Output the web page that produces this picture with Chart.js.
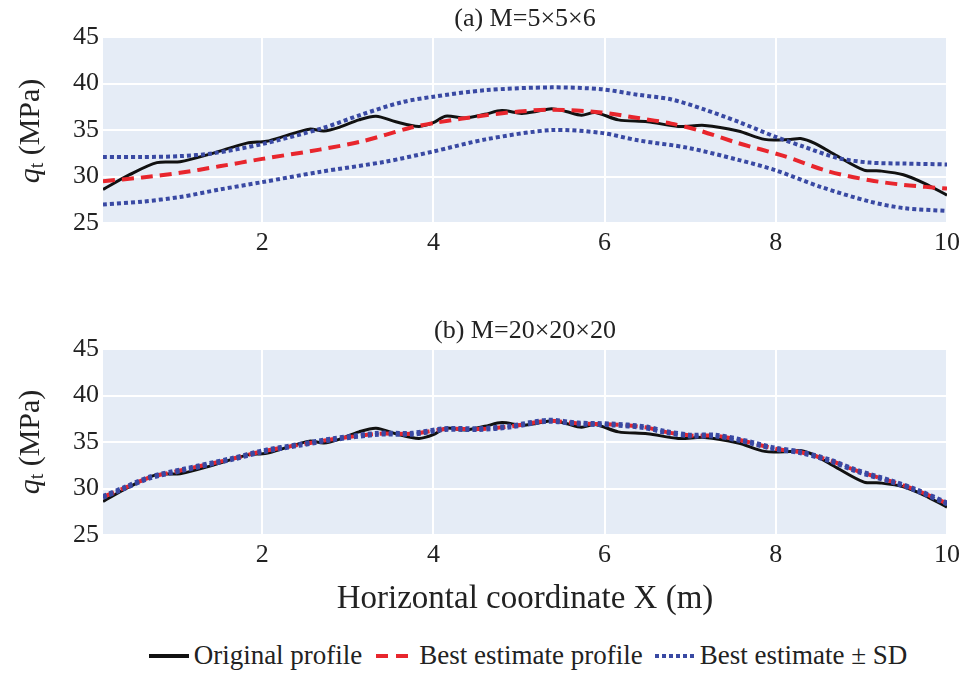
<!DOCTYPE html>
<html lang="en">
<head>
    <meta charset="UTF-8">
    <title>qt profiles</title>
    <script src="https://cdn.jsdelivr.net/npm/chart.js"></script>
    <style>
        body { margin: 0; background: #fff; font-family: "Liberation Serif", serif; }
        .page { position: relative; width: 965px; height: 675px; overflow: hidden; }
        canvas { position: absolute; left: 0; }
        .ytitle {
            position: absolute; left: 30px; font-size: 30px; color: #222; white-space: nowrap;
            transform: translate(-50%, -50%) rotate(-90deg);
        }
        .ytitle sub { font-size: 20px; vertical-align: -4px; }
        .legend {
            position: absolute; top: 640px; left: 0; width: 965px; padding-left: 91px; box-sizing: border-box;
            display: flex; justify-content: center; align-items: center; font-size: 27px; color: #222;
        }
        .legend span.item { display: flex; align-items: center; margin: 0 6px; }
        .legend svg { margin-right: 5px; }
    </style>
</head>
<body>
<div class="page">
    <canvas id="chartA" width="965" height="262" style="top:0"></canvas>
    <canvas id="chartB" width="965" height="330" style="top:300px"></canvas>
    <div class="ytitle" style="top:131px"><i>q</i><sub>t</sub> (MPa)</div>
    <div class="ytitle" style="top:442px"><i>q</i><sub>t</sub> (MPa)</div>
    <div class="legend">
        <span class="item"><svg width="40" height="10"><line x1="0" y1="5" x2="40" y2="5" stroke="#111" stroke-width="4"/></svg>Original profile</span>
        <span class="item"><svg width="40" height="10"><line x1="2" y1="5" x2="40" y2="5" stroke="#E8262D" stroke-width="4" stroke-dasharray="12 8"/></svg>Best estimate profile</span>
        <span class="item"><svg width="40" height="10"><line x1="0" y1="5" x2="40" y2="5" stroke="#3949A3" stroke-width="4" stroke-dasharray="4 3"/></svg>Best estimate &plusmn; SD</span>
    </div>
</div>

<script>
    // Original profile (same in both panels)
    const origX = [0.14, 0.45, 0.77, 1.04, 1.42, 1.82, 2.05, 2.28, 2.55, 2.72, 2.9, 3.13, 3.33, 3.56, 3.83, 4.0, 4.14, 4.37, 4.6, 4.8, 5.03, 5.2, 5.38, 5.55, 5.73, 5.89, 6.16, 6.5, 6.86, 7.17, 7.56, 7.87, 8.17, 8.29, 8.45, 8.72, 9.03, 9.22, 9.49, 9.73, 10.0];
    const origQ = [28.6, 30.2, 31.5, 31.6, 32.5, 33.6, 33.8, 34.4, 35.1, 34.9, 35.3, 36.1, 36.5, 35.9, 35.4, 35.8, 36.5, 36.3, 36.7, 37.1, 36.8, 37.0, 37.3, 37.0, 36.6, 36.9, 36.1, 35.9, 35.4, 35.5, 34.9, 34.0, 34.0, 34.1, 33.6, 32.2, 30.7, 30.6, 30.2, 29.3, 28.0];

    // (a) M=5x5x6
    const estAX = [0.14, 0.6, 1.04, 1.5, 2.0, 2.67, 3.17, 3.71, 4.03, 4.61, 5.0, 5.38, 5.96, 6.39, 6.78, 7.09, 7.56, 8.1, 8.6, 9.1, 9.5, 10.0];
    const estAQ = [29.5, 29.9, 30.4, 31.1, 31.9, 32.9, 33.8, 35.2, 35.8, 36.6, 37.0, 37.2, 36.9, 36.3, 35.7, 35.0, 33.6, 32.2, 30.6, 29.6, 29.1, 28.7];
    const upAX = [0.14, 0.6, 1.04, 1.42, 2.0, 2.7, 3.17, 3.63, 4.0, 4.61, 5.38, 5.96, 6.39, 6.78, 7.17, 7.56, 7.99, 8.33, 8.72, 9.1, 9.5, 10.0];
    const upAQ = [32.1, 32.1, 32.2, 32.5, 33.5, 35.2, 36.7, 38.0, 38.6, 39.3, 39.6, 39.4, 38.8, 38.3, 37.2, 35.9, 34.3, 33.2, 32.0, 31.5, 31.4, 31.3];
    const loAX = [0.14, 0.6, 1.04, 1.5, 2.0, 2.67, 3.44, 4.0, 4.61, 5.38, 5.96, 6.39, 6.97, 7.56, 7.99, 8.52, 9.1, 9.5, 10.0];
    const loAQ = [27.0, 27.3, 27.8, 28.6, 29.4, 30.5, 31.6, 32.7, 34.0, 35.0, 34.7, 33.9, 33.1, 31.8, 30.7, 28.9, 27.3, 26.6, 26.3];

    // (b) M=20x20x20
    const estBX = [0.14, 0.4, 0.69, 1.07, 1.65, 2.0, 2.43, 2.82, 3.36, 3.75, 4.14, 4.53, 4.91, 5.34, 5.69, 6.08, 6.47, 6.71, 7.01, 7.29, 7.59, 7.99, 8.29, 8.64, 8.95, 9.34, 9.65, 10.0];
    const estBQ = [29.1, 30.1, 31.2, 32.0, 33.2, 34.0, 34.7, 35.3, 35.9, 35.9, 36.4, 36.4, 36.7, 37.3, 37.0, 36.9, 36.6, 36.1, 35.7, 35.7, 35.2, 34.3, 33.9, 33.0, 31.9, 30.8, 29.8, 28.4];
    const upBQ = [29.2, 30.2, 31.3, 32.1, 33.3, 34.1, 34.8, 35.4, 36.0, 36.0, 36.5, 36.5, 36.8, 37.4, 37.1, 37.0, 36.7, 36.2, 35.8, 35.8, 35.3, 34.4, 34.0, 33.1, 32.0, 30.9, 29.9, 28.5];
    const loBQ = [29.0, 30.0, 31.1, 31.9, 33.1, 33.9, 34.6, 35.2, 35.8, 35.8, 36.3, 36.3, 36.6, 37.2, 36.9, 36.8, 36.5, 36.0, 35.6, 35.6, 35.1, 34.2, 33.8, 32.9, 31.8, 30.7, 29.7, 28.3];

    const xTicks = [2, 4, 6, 8, 10];
    const yTicks = [25, 30, 35, 40, 45];

    Chart.defaults.font.family = "'Liberation Serif', 'Times New Roman', serif";
    Chart.defaults.color = '#222';

    const pts = (xs, ys) => xs.map((x, i) => ({ x: x, y: ys[i] }));

    // light blue plot background
    const plotBg = {
        id: 'plotBg',
        beforeDraw(chart) {
            const { ctx, chartArea: a } = chart;
            ctx.save();
            ctx.fillStyle = '#E5ECF6';
            ctx.fillRect(a.left, a.top, a.right - a.left, a.bottom - a.top);
            ctx.restore();
        }
    };

    function lineSet(data, color, width, dash, order) {
        return {
            data: data, borderColor: color, borderWidth: width, borderDash: dash,
            pointRadius: 0, tension: 0.3, fill: false, order: order
        };
    }

    function makeChart(id, title, sets, titleTop, xHeight, withXTitle) {
        const ctx = document.getElementById(id).getContext('2d');
        return new Chart(ctx, {
            type: 'line',
            data: { datasets: sets },
            plugins: [plotBg],
            options: {
                responsive: false,
                animation: false,
                layout: { padding: { left: 0, right: 15, top: 0, bottom: 0 } },
                plugins: {
                    legend: { display: false },
                    tooltip: { enabled: false },
                    title: {
                        display: true, text: title, fullSize: false, color: '#222',
                        font: { size: 26, weight: 'normal' },
                        padding: { top: titleTop, bottom: 2 }
                    }
                },
                scales: {
                    x: {
                        type: 'linear', min: 0.14, max: 10,
                        afterBuildTicks: s => { s.ticks = xTicks.map(v => ({ value: v })); },
                        afterFit: s => { s.height = xHeight; },
                        ticks: { color: '#222', padding: 5, maxRotation: 0, font: { size: 26 } },
                        grid: { color: '#fff', lineWidth: 2, drawTicks: false },
                        border: { display: false },
                        title: {
                            display: withXTitle, text: 'Horizontal coordinate X (m)', color: '#222',
                            font: { size: 33 }, padding: { top: 0, bottom: 11 }
                        }
                    },
                    y: {
                        min: 25, max: 45,
                        afterBuildTicks: s => { s.ticks = yTicks.map(v => ({ value: v })); },
                        afterFit: s => { s.width = 103; },
                        ticks: { color: '#222', padding: 4, font: { size: 26 } },
                        grid: { color: '#fff', lineWidth: 2, drawTicks: false },
                        border: { display: false }
                    }
                }
            }
        });
    }

    makeChart('chartA', '(a) M=5×5×6', [
        lineSet(pts(origX, origQ), '#111', 3, [], 3),
        lineSet(pts(estAX, estAQ), '#E8262D', 4, [12, 7], 2),
        lineSet(pts(upAX, upAQ), '#3949A3', 4, [4, 3], 1),
        lineSet(pts(loAX, loAQ), '#3949A3', 4, [4, 3], 1)
    ], 4, 39, false);

    makeChart('chartB', '(b) M=20×20×20', [
        lineSet(pts(origX, origQ), '#111', 3, [], 3),
        lineSet(pts(estBX, estBQ), '#E8262D', 4, [12, 7], 2),
        lineSet(pts(estBX, upBQ), '#3949A3', 4, [4, 3], 1),
        lineSet(pts(estBX, loBQ), '#3949A3', 4, [4, 3], 1)
    ], 16, 95, true);
</script>
</body>
</html>
